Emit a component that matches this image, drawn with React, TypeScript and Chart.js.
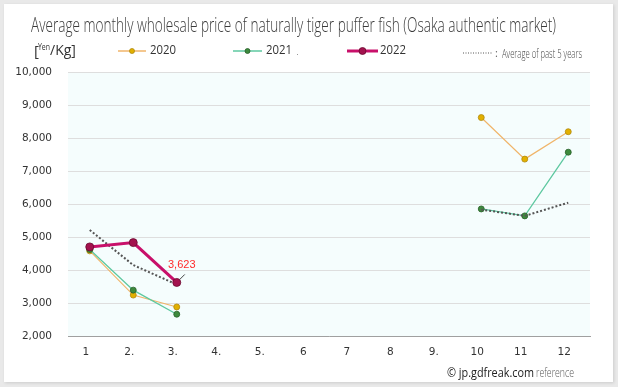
import React, { useEffect, useRef } from "react";
import { Chart, registerables } from "chart.js";
Chart.register(...registerables);

const months = ["1", "2.", "3.", "4.", "5.", "6", "7", "8", "9.", "10", "11", "12"];
const price2020 = [4580, 3240, 2880, null, null, null, null, null, null, 8620, 7360, 8190];
const price2021 = [4620, 3390, 2660, null, null, null, null, null, null, 5850, 5640, 7570];
const price2022 = [4700, 4830, 3623, null, null, null, null, null, null, null, null, null];
const avgPast5 = [5210, 4150, 3560, null, null, null, null, null, null, 5830, 5640, 6040];
const yMin = 2000;
const yMax = 10000;
const yStep = 1000;

const titleText = "Average monthly wholesale price of naturally tiger puffer fish (Osaka authentic market)";
const labelIndex = 2;

const C2020 = { line: "#f0b56a", point: "#e2b000", border: "#b08a10" };
const C2021 = { line: "#5ec8a0", point: "#3d8a3d", border: "#2a602a" };
const C2022 = { line: "#c8106a", point: "#a3124e", border: "#6a0a30" };
const CAVG = "#555555";

const fmt = (v: number) => v.toLocaleString("en-US");

const decor = {
  id: "decor",
  beforeDraw(chart: any) {
    const { ctx, chartArea: a } = chart;
    ctx.save();
    ctx.fillStyle = "#f5fdfd";
    ctx.fillRect(a.left, a.top, a.right - a.left, a.bottom - a.top);
    ctx.restore();
  },
  afterDraw(chart: any) {
    const { ctx } = chart;
    ctx.save();
    // title
    ctx.fillStyle = "#3a3a3a";
    ctx.textBaseline = "alphabetic";
    ctx.textAlign = "left";
    ctx.font = "300 21px 'Open Sans'";
    ctx.fillText(titleText, 31, 32, 525);

    // unit
    ctx.fillStyle = "#333";
    ctx.font = "15px 'Open Sans'";
    ctx.fillText("[", 34, 56);
    ctx.font = "9px 'Open Sans'";
    ctx.fillText("Yen", 38, 50, 12);
    ctx.font = "500 14px 'Open Sans'";
    ctx.fillText("/Kg]", 50, 55, 30);

    const legendY = 51;
    const drawItem = (x1: number, x2: number, c: any, lw: number, r: number, label: string, tx: number) => {
      ctx.strokeStyle = c.line;
      ctx.lineWidth = lw;
      ctx.beginPath();
      ctx.moveTo(x1, legendY);
      ctx.lineTo(x2, legendY);
      ctx.stroke();
      ctx.fillStyle = c.point;
      ctx.strokeStyle = c.border;
      ctx.lineWidth = 0.8;
      ctx.beginPath();
      ctx.arc((x1 + x2) / 2, legendY, r, 0, Math.PI * 2);
      ctx.fill();
      ctx.stroke();
      ctx.fillStyle = "#333";
      ctx.font = "500 12px 'Open Sans'";
      ctx.textBaseline = "middle";
      ctx.fillText(label, tx, legendY, 26);
    };
    drawItem(118, 146, C2020, 1.5, 2.5, "2020", 150);
    drawItem(233, 262, C2021, 1.5, 2.5, "2021", 266);
    ctx.fillStyle = "#999";
    ctx.fillRect(297, 54, 1, 1);
    drawItem(347, 378, C2022, 3, 3.5, "2022", 380);

    // avg legend
    ctx.strokeStyle = CAVG;
    ctx.lineWidth = 1;
    ctx.setLineDash([1, 1.5]);
    ctx.beginPath();
    ctx.moveTo(463, 53);
    ctx.lineTo(492, 53);
    ctx.stroke();
    ctx.setLineDash([]);
    ctx.fillStyle = "#666";
    ctx.font = "11px 'Open Sans'";
    ctx.textBaseline = "middle";
    ctx.fillText(":", 495, 54);
    ctx.fillStyle = "#444";
    ctx.font = "300 12px 'Open Sans'";
    ctx.fillText("Average of past 5 years", 502, 55, 80);

    // data label
    const meta = chart.getDatasetMeta(2);
    const pt = meta.data[labelIndex];
    if (pt) {
      ctx.strokeStyle = "#444";
      ctx.lineWidth = 1;
      ctx.beginPath();
      ctx.moveTo(pt.x + 3, pt.y - 3);
      ctx.lineTo(pt.x + 8, pt.y - 8);
      ctx.stroke();
      ctx.fillStyle = "#ff2a2a";
      ctx.font = "11px 'Liberation Sans'";
      ctx.textAlign = "center";
      ctx.textBaseline = "middle";
      ctx.fillText(fmt(price2022[labelIndex] as number), pt.x + 5, pt.y - 17);
    }

    // footer
    ctx.textAlign = "left";
    ctx.textBaseline = "alphabetic";
    ctx.fillStyle = "#222";
    ctx.font = "12px 'Open Sans'";
    ctx.fillText("\u00a9 jp.gdfreak.com", 447, 377, 87);
    ctx.fillStyle = "#555";
    ctx.font = "300 12px 'Open Sans'";
    ctx.fillText("reference", 536, 377, 38);
    ctx.restore();
  },
};

export default function App() {
  const ref = useRef<HTMLCanvasElement | null>(null);
  useEffect(() => {
    if (!ref.current) return;
    const chart = new Chart(ref.current, {
      type: "line",
      data: {
        labels: months,
        datasets: [
          {
            label: "2020",
            data: price2020,
            borderColor: C2020.line,
            borderWidth: 1.2,
            pointBackgroundColor: C2020.point,
            pointBorderColor: C2020.border,
            pointBorderWidth: 0.8,
            pointRadius: 3,
            spanGaps: false,
            order: 3,
          },
          {
            label: "2021",
            data: price2021,
            borderColor: C2021.line,
            borderWidth: 1.3,
            pointBackgroundColor: C2021.point,
            pointBorderColor: C2021.border,
            pointBorderWidth: 0.8,
            pointRadius: 3,
            spanGaps: false,
            order: 2,
          },
          {
            label: "2022",
            data: price2022,
            borderColor: C2022.line,
            borderWidth: 3,
            pointBackgroundColor: C2022.point,
            pointBorderColor: C2022.border,
            pointBorderWidth: 0.8,
            pointRadius: 4,
            spanGaps: false,
            order: 0,
          },
          {
            label: "Average of past 5 years",
            data: avgPast5,
            borderColor: CAVG,
            borderWidth: 2,
            borderDash: [2, 2],
            pointRadius: 0,
            spanGaps: false,
            order: 1,
          },
        ],
      },
      options: {
        animation: false,
        responsive: false,
        maintainAspectRatio: false,
        events: [],
        layout: { padding: { left: 0, right: 28, top: 72, bottom: 21 } },
        plugins: { legend: { display: false }, tooltip: { enabled: false }, title: { display: false } },
        scales: {
          x: {
            type: "category",
            offset: true,
            grid: { display: false, drawTicks: false, offset: true },
            border: { display: true, color: "#a0a0a0", width: 1 },
            ticks: {
              font: { family: "'DejaVu Sans'", size: 10.5 },
              color: "#333",
              padding: 10,
              labelOffset: -4,
              maxRotation: 0,
              autoSkip: false,
            },
            afterFit: (s: any) => {
              s.height = 30;
            },
          },
          y: {
            min: yMin,
            max: yMax,
            grid: { color: "#dedede", drawTicks: false, lineWidth: 1 },
            border: { display: false },
            ticks: {
              stepSize: yStep,
              font: { family: "'DejaVu Sans'", size: 10.5 },
              color: "#333",
              padding: 16,
              callback: (v: any) => fmt(Number(v)),
            },
            afterFit: (s: any) => {
              s.width = 68;
            },
          },
        },
      },
      plugins: [decor],
    });
    return () => chart.destroy();
  }, []);

  return (
    <div style={{ position: "absolute", left: 0, top: 0, width: 618, height: 387, background: "#e9e9e9", overflow: "hidden" }}>
      <div
        style={{
          position: "absolute",
          left: 4,
          top: 4,
          width: 609,
          height: 378,
          background: "#fff",
          boxShadow: "1px 1px 3px rgba(0,0,0,0.12)",
        }}
      />
      <canvas ref={ref} width={618} height={387} style={{ position: "absolute", left: 0, top: 0, width: 618, height: 387 }} />
    </div>
  );
}
